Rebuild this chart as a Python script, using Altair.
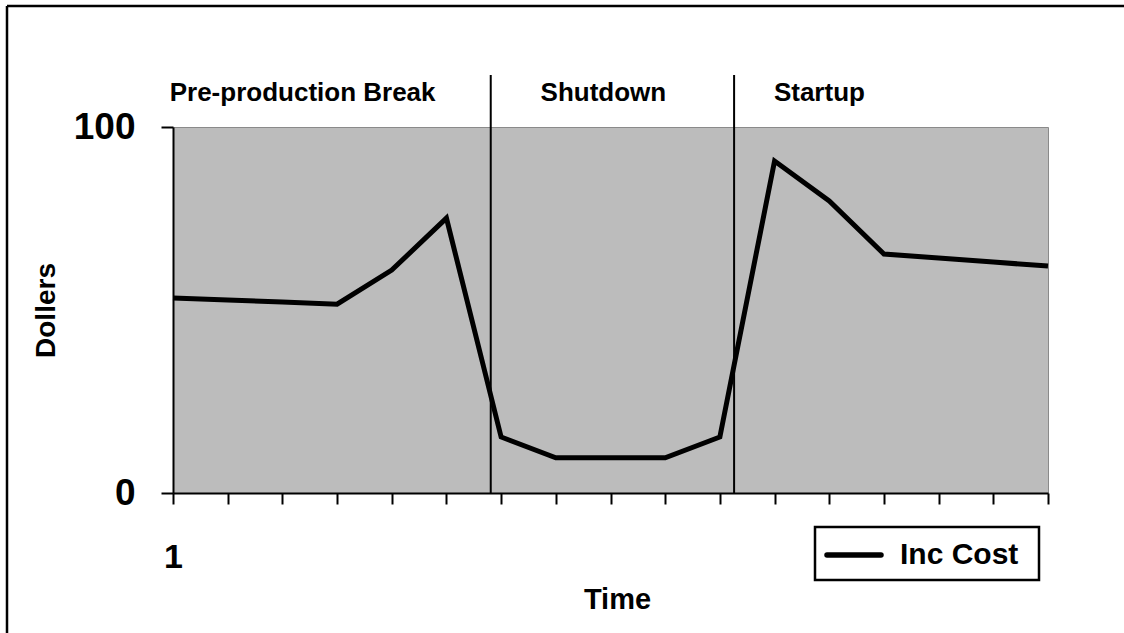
import altair as alt
import pandas as pd

# Incremental cost per time step
time_steps = list(range(1, 18))
inc_cost = [53.3, 52.7, 52.2, 51.6, 60.9, 75.1, 15.3, 9.6, 9.6, 9.6, 15.3,
            90.7, 79.8, 65.3, 64.2, 63.1, 62.0]
series_name = "Inc Cost"

# Phase annotations
phase_names = ["Pre-production Break", "Shutdown", "Startup"]
phase_centers = [3.37, 8.87, 12.82]
phase_label_level = 107.1
phase_breaks = [6.81, 11.26]
phase_break_top = 114.2

FONT = "Liberation Sans"

cost_df = pd.DataFrame({"Time": time_steps, "Dollers": inc_cost, "series": series_name})
phase_df = pd.DataFrame({"name": phase_names, "x": phase_centers, "y": phase_label_level})
break_df = pd.DataFrame({"x": phase_breaks, "y": 0, "y2": phase_break_top})
legend_df = pd.DataFrame({"series": [series_name]})

x_scale = alt.Scale(domain=[1, 17], nice=False, zero=False)
y_scale = alt.Scale(domain=[0, 100], nice=False)

line = alt.Chart(cost_df).mark_line(
    color="black", strokeWidth=5, strokeJoin="miter", strokeCap="butt"
).encode(
    x=alt.X("Time:Q", scale=x_scale,
            axis=alt.Axis(values=time_steps, labelExpr="datum.value == 1 ? '1' : ''",
                          title="Time", grid=False, tickSize=11, tickWidth=2, tickColor="black",
                          domainColor="black", domainWidth=2,
                          labelFont=FONT, labelFontWeight="bold", labelFontSize=34,
                          labelColor="black", labelPadding=36, labelFlush=False,
                          titleFont=FONT, titleFontWeight="bold", titleFontSize=29,
                          titleColor="black", titleX=444, titleY=115,
                          titleBaseline="alphabetic")),
    y=alt.Y("Dollers:Q", scale=y_scale,
            axis=alt.Axis(values=[0, 100], title="Dollers", grid=False, tickSize=12,
                          tickWidth=2, tickColor="black", domainColor="black", domainWidth=2,
                          labelFont=FONT, labelFontWeight="bold", labelFontSize=37,
                          labelColor="black", labelPadding=26, labelFlush=False,
                          titleFont=FONT, titleFontWeight="bold", titleFontSize=28,
                          titleColor="black", titleX=-119, titleY=183, titleAngle=-90,
                          titleAlign="center", titleBaseline="alphabetic")),
)

breaks = alt.Chart(break_df).mark_rule(color="black", strokeWidth=2).encode(
    x=alt.X("x:Q", scale=x_scale), y=alt.Y("y:Q", scale=y_scale), y2="y2:Q"
)

labels = alt.Chart(phase_df).mark_text(
    font=FONT, fontWeight="bold", fontSize=26, color="black", baseline="alphabetic", align="center"
).encode(x=alt.X("x:Q", scale=x_scale), y=alt.Y("y:Q", scale=y_scale), text="name:N")

# Legend box below the plot, on the right
legend_box = alt.Chart(legend_df).mark_rect(
    fill="white", stroke="black", strokeWidth=2.5
).encode(x=alt.value(642), x2=alt.value(866), y=alt.value(400), y2=alt.value(453))
legend_swatch = alt.Chart(legend_df).mark_rule(
    color="black", strokeWidth=5.5, strokeCap="round"
).encode(x=alt.value(654), x2=alt.value(708), y=alt.value(428))
legend_label = alt.Chart(legend_df).mark_text(
    font=FONT, fontWeight="bold", fontSize=30, color="black", align="left", baseline="middle"
).encode(x=alt.value(727), y=alt.value(428), text="series:N")

# Frame around the whole figure (top and left edges)
frame_top = alt.Chart(legend_df).mark_rule(color="black", strokeWidth=2.5).encode(
    x=alt.value(-166), x2=alt.value(980), y=alt.value(-121)
)
frame_left = alt.Chart(legend_df).mark_rule(color="black", strokeWidth=2.5).encode(
    x=alt.value(-166), y=alt.value(-121), y2=alt.value(520)
)

chart = alt.layer(
    breaks, line, labels, legend_box, legend_swatch, legend_label, frame_top, frame_left
).properties(
    width=875, height=366,
    autosize=alt.AutoSizeParams(type="none"),
    padding={"left": 173, "top": 127, "right": 76, "bottom": 140},
    background="white",
).configure_view(
    fill="#bcbcbc", stroke="#8a8a8a", strokeWidth=1
)

chart.save("out.html", embed_options={"renderer": "svg", "actions": False})
